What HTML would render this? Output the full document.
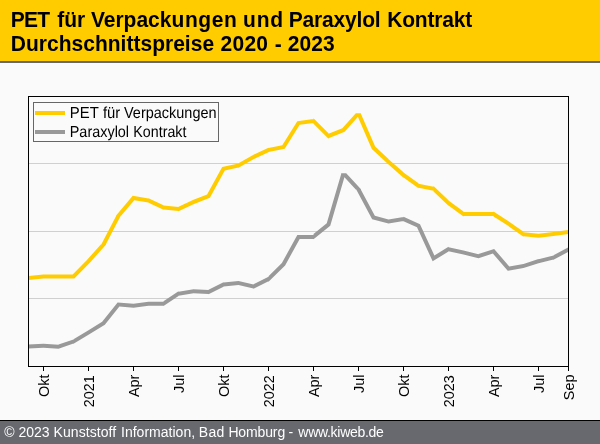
<!DOCTYPE html>
<html lang="de"><head><meta charset="utf-8"><title>PET für Verpackungen und Paraxylol Kontrakt</title>
<style>
html,body{margin:0;padding:0}
body{width:600px;height:444px;background:#fafafa;position:relative;overflow:hidden;font-family:"Liberation Sans",sans-serif}
#hd{position:absolute;left:0;top:0;width:600px;height:61px;background:#fc0;border-bottom:2px solid #67696e}
#ft{position:absolute;left:0;top:420px;width:600px;height:24px;background:#67696e}
#ft b{display:block;height:1px;background:#000}
</style></head><body>
<div id="hd"></div>
<div id="ft"><b></b></div>
<svg width="600" height="444" viewBox="0 0 600 444" style="position:absolute;left:0;top:0" font-family="'Liberation Sans', sans-serif">
<g font-weight="bold" fill="#000" style="white-space:pre">
<text transform="translate(0,27) scale(1,1.04)" font-size="21" ><tspan x="10.80" letter-spacing="-0.825">PET</tspan> <tspan x="57.30" letter-spacing="0.000">für</tspan> <tspan x="90.90" letter-spacing="0.000">Verpack</tspan><tspan x="171.50" letter-spacing="0.600">ungen</tspan> <tspan x="243.10" letter-spacing="0.800">und</tspan> <tspan x="288.80" letter-spacing="-0.188">Paraxylol</tspan> <tspan x="387.30" letter-spacing="-0.200">Kontrakt</tspan></text>
<text transform="translate(0,51) scale(1,1.04)" font-size="21" ><tspan x="10.80" letter-spacing="0.022">Durchschnittspreise</tspan> <tspan x="220.60" letter-spacing="0.233">2020</tspan> <tspan x="274.70" letter-spacing="0.000">-</tspan> <tspan x="287.80" letter-spacing="0.067">2023</tspan></text>
</g>
<rect x="29" y="163" width="539" height="1" fill="#d0d0d0"/>
<rect x="29" y="231" width="539" height="1" fill="#d0d0d0"/>
<rect x="29" y="298" width="539" height="1" fill="#d0d0d0"/>
<rect x="33.5" y="102.5" width="185" height="39" fill="none" stroke="#666" stroke-width="1"/>
<rect x="35" y="111" width="30" height="4" fill="#fc0"/>
<rect x="35" y="130" width="30" height="4" fill="#999"/>
<g font-size="15" fill="#000" text-rendering="geometricPrecision">
<text transform="translate(69.70,118) scale(0.9964,1.066)">PET</text> <text transform="translate(103.00,118) scale(0.9882,1.066)">für</text> <text transform="translate(124.00,118) scale(0.9653,1.066)">Verpackungen</text>
<text transform="translate(69.74,137) scale(0.9617,1.066)">Paraxylol</text> <text transform="translate(133.35,137) scale(0.9491,1.066)">Kontrakt</text>
</g>
<path fill="#999" d="M28.50 344.50L43.50 343.70L43.50 347.70L28.50 348.50ZM43.50 343.70L58.50 344.70L58.50 348.70L43.50 347.70ZM58.50 344.58L73.50 339.38L73.50 343.62L58.50 348.82ZM73.50 339.17L88.50 330.17L88.50 334.83L73.50 343.83ZM88.50 330.15L102.15 321.68L104.85 324.72L88.50 334.85ZM102.15 321.68L117.60 302.42L119.40 306.58L104.85 324.72ZM117.60 302.42L133.50 303.69L133.50 307.71L119.40 306.58ZM133.50 303.68L148.50 301.68L148.50 305.72L133.50 307.72ZM148.50 301.70L163.50 301.70L163.50 305.70L148.50 305.70ZM163.50 301.30L178.50 291.30L178.50 296.10L163.50 306.10ZM178.50 291.67L193.50 289.17L193.50 293.23L178.50 295.73ZM193.50 289.20L208.50 289.90L208.50 293.90L193.50 293.20ZM208.50 289.67L223.50 282.27L223.50 286.73L208.50 294.13ZM223.50 282.49L238.50 280.99L238.50 285.01L223.50 286.51ZM238.50 280.95L253.50 284.45L253.50 288.55L238.50 285.05ZM253.50 284.26L268.50 276.76L268.50 281.24L253.50 288.74ZM268.50 276.19L281.89 262.98L285.11 265.42L268.50 281.81ZM281.89 262.98L297.31 235.02L299.69 238.98L285.11 265.42ZM297.31 235.02L313.50 234.70L313.50 238.70L299.69 238.98ZM313.50 234.12L326.76 223.34L330.24 225.66L313.50 239.28ZM326.76 223.34L341.42 173.30L345.58 173.30L330.24 225.66ZM346.23 173.30L361.23 189.50L355.77 189.50L340.77 173.30ZM360.77 189.50L374.85 215.79L372.15 219.21L356.23 189.50ZM374.85 215.79L388.50 219.43L388.50 223.57L372.15 219.21ZM388.50 219.47L403.50 216.97L403.50 221.03L388.50 223.53ZM403.50 216.81L420.00 224.18L417.00 227.22L403.50 221.19ZM420.00 224.18L434.38 255.52L432.62 261.28L417.00 227.22ZM434.38 255.52L448.50 246.85L448.50 251.55L432.62 261.28ZM448.50 247.15L463.50 250.45L463.50 254.55L448.50 251.25ZM463.50 250.44L478.50 254.14L478.50 258.26L463.50 254.56ZM478.50 254.09L494.14 248.88L492.86 253.52L478.50 258.31ZM494.14 248.88L509.27 266.53L507.73 270.87L492.86 253.52ZM509.27 266.53L523.50 263.97L523.50 268.03L507.73 270.87ZM523.50 263.90L538.50 259.10L538.50 263.30L523.50 268.10ZM538.50 259.14L553.50 255.44L553.50 259.56L538.50 263.26ZM553.50 255.23L568.50 247.23L568.50 251.77L553.50 259.77Z"/>
<path fill="#fc0" d="M28.50 275.99L43.50 274.49L43.50 278.51L28.50 280.01ZM43.50 274.50L58.50 274.50L58.50 278.50L43.50 278.50ZM58.50 274.50L72.66 274.50L74.34 278.50L58.50 278.50ZM72.66 274.50L85.70 261.20L91.30 261.20L74.34 278.50ZM85.81 261.20L100.81 244.50L106.19 244.50L91.19 261.20ZM101.24 244.50L116.24 215.70L120.76 215.70L105.76 244.50ZM115.88 215.70L132.71 195.84L134.29 200.16L121.12 215.70ZM132.71 195.84L148.50 198.47L148.50 202.53L134.29 200.16ZM148.50 198.29L163.50 205.29L163.50 209.71L148.50 202.71ZM163.50 205.49L178.50 206.99L178.50 211.01L163.50 209.51ZM178.50 206.79L193.50 199.79L193.50 204.21L178.50 211.21ZM193.50 199.86L207.10 194.60L209.90 197.80L193.50 204.14ZM207.10 194.60L222.18 166.94L224.82 170.46L209.90 197.80ZM222.18 166.94L238.50 163.45L238.50 167.55L224.82 170.46ZM238.50 163.20L253.50 154.70L253.50 159.30L238.50 167.80ZM253.50 154.79L268.50 147.79L268.50 152.21L253.50 159.21ZM268.50 147.96L282.26 145.21L284.74 148.79L268.50 152.04ZM282.26 145.21L297.30 121.14L299.70 124.86L284.74 148.79ZM297.30 121.14L313.50 118.98L313.50 123.02L299.70 124.86ZM313.50 118.17L328.50 133.17L328.50 138.83L313.50 123.83ZM328.50 133.85L342.32 128.32L344.68 131.68L328.50 138.15ZM342.32 128.32L355.81 113.30L361.19 113.30L344.68 131.68ZM360.68 113.30L375.17 146.52L371.83 148.88L356.32 113.30ZM375.17 146.52L388.50 159.06L388.50 164.54L371.83 148.88ZM388.50 159.14L403.50 172.34L403.50 177.66L388.50 164.46ZM403.50 172.54L418.50 183.34L418.50 188.26L403.50 177.46ZM418.50 183.76L433.50 186.76L433.50 190.84L418.50 187.84ZM433.50 186.05L448.50 200.25L448.50 205.75L433.50 191.55ZM448.50 200.52L463.50 211.52L463.50 216.48L448.50 205.48ZM463.50 212.00L478.50 212.00L478.50 216.00L463.50 216.00ZM478.50 212.00L493.50 212.00L493.50 216.00L478.50 216.00ZM493.50 211.62L508.50 221.32L508.50 226.08L493.50 216.38ZM508.50 221.26L523.50 231.76L523.50 236.64L508.50 226.14ZM523.50 232.19L538.50 233.69L538.50 237.71L523.50 236.21ZM538.50 233.69L553.50 231.99L553.50 236.01L538.50 237.71ZM553.50 231.98L568.50 229.98L568.50 234.02L553.50 236.02Z"/>
<rect x="28.5" y="96.5" width="540" height="270" fill="none" stroke="#000" stroke-width="1"/>
<rect x="43" y="367" width="1" height="4" fill="#000"/>
<rect x="88" y="367" width="1" height="4" fill="#000"/>
<rect x="133" y="367" width="1" height="4" fill="#000"/>
<rect x="178" y="367" width="1" height="4" fill="#000"/>
<rect x="223" y="367" width="1" height="4" fill="#000"/>
<rect x="268" y="367" width="1" height="4" fill="#000"/>
<rect x="313" y="367" width="1" height="4" fill="#000"/>
<rect x="358" y="367" width="1" height="4" fill="#000"/>
<rect x="403" y="367" width="1" height="4" fill="#000"/>
<rect x="448" y="367" width="1" height="4" fill="#000"/>
<rect x="493" y="367" width="1" height="4" fill="#000"/>
<rect x="538" y="367" width="1" height="4" fill="#000"/>
<rect x="568" y="367" width="1" height="4" fill="#000"/>
<g font-size="15" fill="#000" text-anchor="end">
<text transform="translate(49.0,374.6) rotate(-90) scale(0.96,1)">Okt</text>
<text transform="translate(94.0,375.3) rotate(-90) scale(0.96,1)">2021</text>
<text transform="translate(139.0,374.6) rotate(-90) scale(0.96,1)">Apr</text>
<text transform="translate(184.0,374.6) rotate(-90) scale(0.96,1)">Jul</text>
<text transform="translate(229.0,374.6) rotate(-90) scale(0.96,1)">Okt</text>
<text transform="translate(274.0,375.3) rotate(-90) scale(0.96,1)">2022</text>
<text transform="translate(319.0,374.6) rotate(-90) scale(0.96,1)">Apr</text>
<text transform="translate(364.0,374.6) rotate(-90) scale(0.96,1)">Jul</text>
<text transform="translate(409.0,374.6) rotate(-90) scale(0.96,1)">Okt</text>
<text transform="translate(454.0,375.3) rotate(-90) scale(0.96,1)">2023</text>
<text transform="translate(499.0,374.6) rotate(-90) scale(0.96,1)">Apr</text>
<text transform="translate(544.0,374.6) rotate(-90) scale(0.96,1)">Jul</text>
<text transform="translate(574.0,374.6) rotate(-90) scale(0.96,1)">Sep</text>
</g>
<g fill="#fff" style="white-space:pre"><text transform="translate(0,437) scale(1,1)" font-size="14" ><tspan x="4.20" letter-spacing="0.000">©</tspan> <tspan x="18.40" letter-spacing="0.033">2023</tspan> <tspan x="53.50" letter-spacing="0.078">Kunststoff</tspan> <tspan x="121.00" letter-spacing="0.018">Information,</tspan> <tspan x="198.80" letter-spacing="0.300">Bad</tspan> <tspan x="228.40" letter-spacing="-0.133">Homburg</tspan> <tspan x="288.60" letter-spacing="0.000">-</tspan> <tspan x="298.30" letter-spacing="-0.282">www.kiweb.de</tspan></text></g>
</svg>
</body></html>
